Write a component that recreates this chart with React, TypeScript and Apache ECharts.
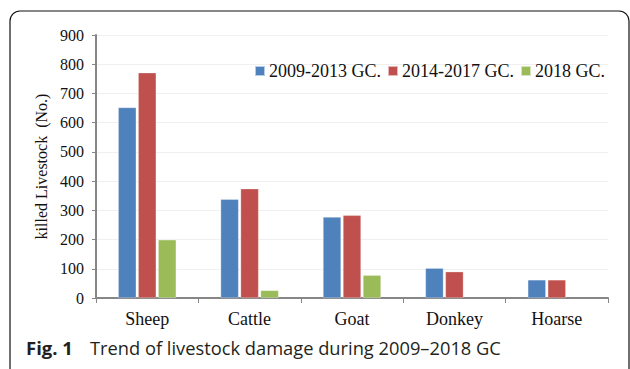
import React, { useEffect, useRef } from "react";
import * as echarts from "echarts";

const categories = ["Sheep", "Cattle", "Goat", "Donkey", "Hoarse"];
const seriesNames = ["2009-2013 GC.", "2014-2017 GC.", "2018 GC."];
const values2009 = [652, 338, 277, 102, 62];
const values2014 = [771, 374, 283, 90, 62];
const values2018: (number | null)[] = [199, 26, 78, null, null];
const colors = ["#4F81BD", "#C0504D", "#9BBB59"];
const yTicks = [0, 100, 200, 300, 400, 500, 600, 700, 800, 900];

export default function App() {
  const ref = useRef<HTMLDivElement>(null);
  useEffect(() => {
    if (!ref.current) return;
    const chart = echarts.init(ref.current, null, { renderer: "svg" });
    const serif = "'Liberation Serif', 'Times New Roman', serif";
    const sans = "'Open Sans', 'Noto Sans', sans-serif";
    const data = [values2009, values2014, values2018];
    chart.setOption({
      animation: false,
      grid: { left: 96, right: 22, top: 35, bottom: 71 },
      legend: {
        left: 254,
        top: 62,
        padding: 0,
        itemWidth: 10,
        itemHeight: 10,
        itemGap: 6,
        icon: "rect",
        textStyle: { fontFamily: serif, fontSize: 18, color: "#111", padding: [0, 0, 0, -1] },
        data: seriesNames,
      },
      xAxis: {
        type: "category",
        data: categories,
        axisLine: { lineStyle: { color: "#868686", width: 2 } },
        axisTick: { show: true, length: 5, lineStyle: { color: "#868686", width: 1 } },
        axisLabel: { fontFamily: serif, fontSize: 18, color: "#111", margin: 12 },
      },
      yAxis: {
        type: "value",
        min: yTicks[0],
        max: yTicks[yTicks.length - 1],
        interval: 100,
        name: "killed Livestock  (No.)",
        nameLocation: "middle",
        nameGap: 42,
        nameTextStyle: { fontFamily: serif, fontSize: 16, color: "#111", padding: [0, 0, 0, 0] },
        axisLine: { show: true, lineStyle: { color: "#868686", width: 2 } },
        axisTick: { show: true, length: 4, lineStyle: { color: "#868686", width: 1 } },
        axisLabel: { fontFamily: serif, fontSize: 16, color: "#111", margin: 12 },
        splitLine: { lineStyle: { color: "#F0F0F0", width: 1 } },
      },
      series: seriesNames.map((name, i) => ({
        name,
        type: "bar",
        data: data[i],
        barWidth: 18,
        barGap: "11%",
        itemStyle: { color: colors[i], borderColor: "rgba(255,255,255,0.6)", borderWidth: 0.5 },
      })),
      graphic: [
        {
          type: "rect",
          shape: { x: 10, y: 11, width: 619, height: 420, r: 10 },
          style: { fill: "none", stroke: "#111", lineWidth: 1.2 },
          silent: true,
        },
        {
          type: "text",
          left: 26,
          top: 338,
          style: {
            text: "Fig. 1",
            fontFamily: sans,
            fontWeight: "bold",
            fontSize: 18.5,
            fill: "#231F20",
          },
        },
        {
          type: "text",
          left: 90,
          top: 338,
          style: {
            text: "Trend of livestock damage during 2009\u20132018 GC",
            fontFamily: sans,
            fontSize: 18.3,
            fill: "#231F20",
          },
        },
      ],
    });
    return () => chart.dispose();
  }, []);
  return (
    <div
      ref={ref}
      style={{ position: "fixed", left: 0, top: 0, width: 630, height: 369, background: "#fff" }}
    />
  );
}
